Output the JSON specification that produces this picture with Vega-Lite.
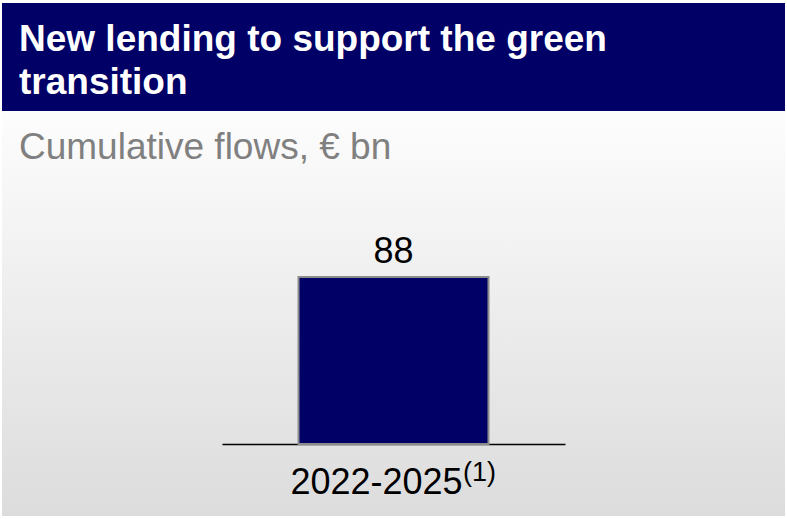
{
  "$schema": "https://vega.github.io/schema/vega-lite/v6.json",
  "width": 783,
  "height": 513,
  "padding": {"left": 2, "top": 3, "right": 2, "bottom": 3},
  "autosize": {"type": "none"},
  "background": "white",
  "title": {
    "text": ["New lending to support the green", "transition"],
    "subtitle": "Cumulative flows, € bn",
    "anchor": "start",
    "frame": "group",
    "orient": "top",
    "offset": -164,
    "dx": 17,
    "color": "white",
    "font": "Liberation Sans",
    "fontSize": 37,
    "fontWeight": "bold",
    "lineHeight": 43,
    "subtitleColor": "#808080",
    "subtitleFont": "Liberation Sans",
    "subtitleFontSize": 37,
    "subtitleFontWeight": "normal",
    "subtitlePadding": 28
  },
  "data": {"values": [{"period": "2022-2025", "value": 88, "note": "(1)"}]},
  "encoding": {
    "x": {
      "field": "period",
      "type": "nominal",
      "scale": {"range": [220, 563], "paddingInner": 0, "paddingOuter": 0.4026},
      "axis": {
        "orient": "bottom",
        "offset": -72,
        "title": null,
        "domainColor": "black",
        "domainWidth": 1.5,
        "ticks": false,
        "tickSize": 0,
        "labelAngle": 0,
        "labelFont": "Liberation Sans",
        "labelFontSize": 36,
        "labelColor": "black",
        "labelPadding": 49,
        "labelBaseline": "alphabetic",
        "labelOffset": -17
      }
    }
  },
  "layer": [
    {
      "mark": {"type": "bar", "color": "#000066", "stroke": "#8c8c8c", "strokeWidth": 2},
      "encoding": {
        "y": {"field": "value", "type": "quantitative", "scale": {"domain": [-37.94, 232.38], "nice": false, "zero": false}, "axis": null}
      }
    },
    {
      "mark": {"type": "text", "font": "Liberation Sans", "fontSize": 36, "color": "black", "baseline": "alphabetic", "dy": -14},
      "encoding": {
        "y": {"field": "value", "type": "quantitative"},
        "text": {"field": "value", "type": "quantitative"}
      }
    },
    {
      "mark": {"type": "text", "font": "Liberation Sans", "fontSize": 27, "color": "black", "baseline": "alphabetic", "dx": 86, "dy": 37},
      "encoding": {
        "y": {"datum": 0, "type": "quantitative"},
        "text": {"field": "note"}
      }
    }
  ],
  "config": {
    "font": "Liberation Sans",
    "view": {
      "stroke": null,
      "fill": {
        "gradient": "linear",
        "x1": 0, "y1": 0, "x2": 0, "y2": 1,
        "stops": [
          {"offset": 0, "color": "#000066"},
          {"offset": 0.2105, "color": "#000066"},
          {"offset": 0.2106, "color": "#fdfdfd"},
          {"offset": 1, "color": "#dcdcdc"}
        ]
      }
    }
  }
}
